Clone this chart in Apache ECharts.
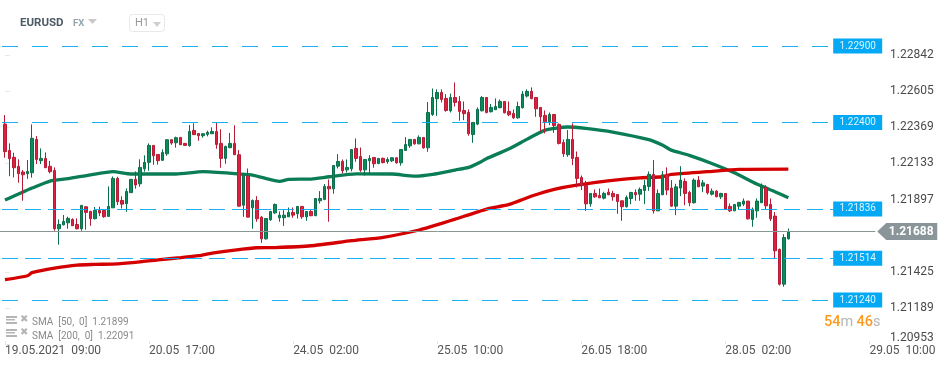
<!DOCTYPE html>
<html>
<head>
<meta charset="utf-8">
<title>EURUSD</title>
<style>
html,body{margin:0;padding:0;background:#fff;}
#chart{width:950px;height:368px;}
</style>
<script src="https://cdn.jsdelivr.net/npm/echarts@6/dist/echarts.min.js"></script>
</head>
<body>
<div id="chart"></div>
<script>
// hourly candles, index 0 = 19.05.2021 09:00
const opens = [
1.22390,1.22218,1.22173,1.22114,1.22077,1.22066,1.22072,1.22290,1.22151,1.22166,
1.22114,1.22087,1.21706,1.21732,1.21745,1.21767,1.21734,1.21706,1.21850,1.21819,
1.21772,1.21826,1.21826,1.21787,1.21843,1.22035,1.21891,1.21870,1.21942,1.22029,
1.22000,1.22098,1.22140,1.22251,1.22192,1.22153,1.22196,1.22288,1.22268,1.22303,
1.22264,1.22249,1.22349,1.22329,1.22314,1.22323,1.22327,1.22342,1.22264,1.22166,
1.22236,1.22264,1.22190,1.21860,1.22050,1.21843,1.21891,1.21782,1.21640,1.21765,
1.21810,1.21778,1.21778,1.21784,1.21813,1.21804,1.21852,1.21784,1.21819,1.21791,
1.21889,1.21898,1.21983,1.21967,1.22115,1.22146,1.22091,1.22098,1.22231,1.22179,
1.22091,1.22150,1.22172,1.22133,1.22166,1.22144,1.22150,1.22170,1.22137,1.22218,
1.22248,1.22290,1.22261,1.22303,1.22235,1.22453,1.22556,1.22597,1.22558,1.22477,
1.22564,1.22538,1.22479,1.22466,1.22322,1.22390,1.22477,1.22564,1.22471,1.22484,
1.22497,1.22538,1.22473,1.22460,1.22431,1.22497,1.22573,1.22604,1.22564,1.22499,
1.22447,1.22405,1.22453,1.22388,1.22270,1.22190,1.22290,1.22172,1.22041,1.21989,
1.21869,1.21937,1.21924,1.21906,1.21945,1.21937,1.21930,1.21889,1.21850,1.21904,
1.21943,1.21932,1.21956,1.21983,1.22061,1.21823,1.21928,1.22059,1.21972,1.21854,
1.21972,1.22015,1.21943,1.21876,1.22024,1.21985,1.21996,1.21932,1.21952,1.21915,
1.21937,1.21852,1.21823,1.21854,1.21867,1.21887,1.21767,1.21823,1.21876,1.21976,
1.21865,1.21789,1.21571,1.21344,1.21640];
const closes = [
1.22210,1.22164,1.22105,1.22066,1.22059,1.22081,1.22297,1.22159,1.22166,1.22105,
1.22079,1.21706,1.21734,1.21754,1.21774,1.21726,1.21706,1.21859,1.21813,1.21772,
1.21826,1.21809,1.21785,1.21852,1.22035,1.21883,1.21867,1.21950,1.22029,1.21992,
1.22107,1.22140,1.22251,1.22183,1.22151,1.22205,1.22288,1.22266,1.22301,1.22255,
1.22251,1.22342,1.22321,1.22314,1.22327,1.22336,1.22342,1.22257,1.22166,1.22244,
1.22264,1.22190,1.21854,1.22061,1.21782,1.21891,1.21771,1.21640,1.21773,1.21819,
1.21865,1.21795,1.21795,1.21813,1.21795,1.21852,1.21784,1.21819,1.21791,1.21904,
1.21904,1.21983,1.21967,1.22120,1.22146,1.22085,1.22107,1.22224,1.22166,1.22089,
1.22159,1.22166,1.22131,1.22166,1.22139,1.22159,1.22170,1.22137,1.22224,1.22257,
1.22290,1.22261,1.22303,1.22235,1.22466,1.22564,1.22597,1.22551,1.22479,1.22564,
1.22532,1.22473,1.22458,1.22327,1.22401,1.22486,1.22564,1.22466,1.22499,1.22505,
1.22538,1.22464,1.22451,1.22431,1.22505,1.22586,1.22604,1.22556,1.22490,1.22438,
1.22405,1.22453,1.22381,1.22264,1.22196,1.22290,1.22166,1.22035,1.21987,1.21869,
1.21937,1.21915,1.21908,1.21937,1.21928,1.21915,1.21884,1.21850,1.21911,1.21943,
1.21928,1.21963,1.21989,1.22061,1.21823,1.21937,1.22059,1.21959,1.21854,1.21980,
1.22024,1.21937,1.21876,1.22024,1.21980,1.22006,1.21941,1.21952,1.21915,1.21937,
1.21836,1.21823,1.21865,1.21878,1.21887,1.21771,1.21834,1.21887,1.21980,1.21856,
1.21771,1.21562,1.21344,1.21649,1.21688];
const lows = [
1.22170,1.22050,1.22042,1.22007,1.21889,1.22033,1.22040,1.22129,1.22129,1.22103,
1.22068,1.21693,1.21602,1.21728,1.21706,1.21724,1.21702,1.21693,1.21700,1.21726,
1.21767,1.21789,1.21778,1.21785,1.21843,1.21861,1.21839,1.21817,1.21942,1.21968,
1.21981,1.22079,1.22085,1.22125,1.22125,1.22151,1.22183,1.22255,1.22236,1.22255,
1.22249,1.22242,1.22321,1.22281,1.22301,1.22310,1.22327,1.22229,1.22105,1.22131,
1.22233,1.22190,1.21850,1.21784,1.21782,1.21706,1.21752,1.21614,1.21636,1.21758,
1.21802,1.21752,1.21725,1.21784,1.21778,1.21773,1.21771,1.21758,1.21791,1.21791,
1.21871,1.21893,1.21752,1.21935,1.22100,1.22068,1.22074,1.22081,1.22144,1.22078,
1.22054,1.22068,1.22105,1.22128,1.22133,1.22131,1.22142,1.22131,1.22118,1.22216,
1.22235,1.22255,1.22259,1.22229,1.22209,1.22444,1.22444,1.22532,1.22471,1.22466,
1.22505,1.22412,1.22416,1.22314,1.22268,1.22383,1.22473,1.22460,1.22466,1.22482,
1.22495,1.22460,1.22442,1.22423,1.22425,1.22492,1.22564,1.22553,1.22438,1.22340,
1.22329,1.22383,1.22333,1.22257,1.22176,1.22176,1.22122,1.21976,1.21959,1.21823,
1.21850,1.21908,1.21908,1.21898,1.21926,1.21889,1.21804,1.21758,1.21845,1.21867,
1.21889,1.21889,1.21867,1.21954,1.21806,1.21823,1.21928,1.21926,1.21850,1.21795,
1.21919,1.21860,1.21854,1.21871,1.21980,1.21945,1.21930,1.21924,1.21913,1.21900,
1.21832,1.21815,1.21823,1.21832,1.21854,1.21767,1.21719,1.21778,1.21876,1.21832,
1.21756,1.21512,1.21335,1.21327,1.21636];
const highs = [
1.22449,1.22264,1.22203,1.22160,1.22090,1.22155,1.22388,1.22312,1.22231,1.22205,
1.22149,1.22107,1.21767,1.21796,1.21785,1.21774,1.21774,1.21859,1.21854,1.21824,
1.21848,1.21850,1.21833,1.21983,1.22048,1.22046,1.21918,1.21970,1.22029,1.22081,
1.22160,1.22186,1.22264,1.22251,1.22192,1.22225,1.22290,1.22290,1.22308,1.22303,
1.22266,1.22384,1.22395,1.22329,1.22329,1.22347,1.22369,1.22399,1.22356,1.22249,
1.22332,1.22382,1.22220,1.22068,1.22100,1.21898,1.21919,1.21789,1.21775,1.21823,
1.21871,1.21819,1.21828,1.21845,1.21845,1.21854,1.21854,1.21819,1.21828,1.21904,
1.21952,1.21998,1.22028,1.22120,1.22194,1.22159,1.22159,1.22224,1.22296,1.22237,
1.22161,1.22187,1.22172,1.22168,1.22172,1.22172,1.22172,1.22172,1.22224,1.22305,
1.22292,1.22292,1.22316,1.22303,1.22534,1.22623,1.22617,1.22617,1.22586,1.22590,
1.22662,1.22573,1.22538,1.22486,1.22401,1.22499,1.22573,1.22564,1.22521,1.22558,
1.22551,1.22538,1.22538,1.22486,1.22536,1.22606,1.22617,1.22630,1.22564,1.22499,
1.22479,1.22466,1.22453,1.22394,1.22290,1.22351,1.22394,1.22211,1.22054,1.22020,
1.21937,1.21963,1.21969,1.21948,1.21969,1.21954,1.21930,1.21889,1.21924,1.21948,
1.21963,1.21976,1.22024,1.22081,1.22155,1.21963,1.22083,1.22107,1.22024,1.22000,
1.22115,1.22035,1.21954,1.22035,1.22050,1.22024,1.21998,1.21969,1.21959,1.21941,
1.21939,1.21871,1.21867,1.21882,1.21904,1.21887,1.21845,1.21904,1.22002,1.21991,
1.21904,1.21815,1.21577,1.21671,1.21708];

const sma50Idx = [0,2,4,6,10,14,19,24,28,32,38,44,52,55,57,61,63,68,72,78,86,91,95,100,103,106,107,112,116,120,125,129,135,143,146,148,152,157,162,167,171,174];
const sma50 = [1.21894,1.21920,1.21946,1.21972,1.22018,1.22033,1.22059,1.22079,1.22064,1.22064,1.22064,1.22079,1.22064,1.22057,1.22042,1.22016,1.22029,1.22031,1.22046,1.22065,1.22064,1.22050,1.22062,1.22090,1.22107,1.22148,1.22165,1.22229,1.22292,1.22351,1.22371,1.22362,1.22338,1.22288,1.22253,1.22220,1.22186,1.22133,1.22072,1.21998,1.21948,1.21909];
const sma200Idx = [0,5,6,11,16,20,25,29,34,39,43,46,51,56,60,68,77,84,92,97,100,107,112,117,122,127,137,141,146,148,156,163,174];
const sma200 = [1.21373,1.21399,1.21419,1.21449,1.21469,1.21473,1.21477,1.21486,1.21503,1.21517,1.21530,1.21547,1.21567,1.21582,1.21583,1.21595,1.21628,1.21650,1.21698,1.21741,1.21769,1.21835,1.21865,1.21920,1.21964,1.21992,1.22029,1.22039,1.22046,1.22062,1.22079,1.22094,1.22096];

const yTicks = [1.20953,1.21189,1.21425,1.21897,1.22133,1.22369,1.22605,1.22842];
const xTickIdx = [0,32,64,96,128,160,192];
const xTickLabels = ['19.05.2021  09:00','20.05  17:00','24.05  02:00','25.05  10:00','26.05  18:00','28.05  02:00','29.05  10:00'];

const levels = [1.22900,1.22400,1.21836,1.21514,1.21240];
const levelDash = [[16,14],[16,14],[16,7],[16,7],[16,14]];
const lastPrice = 1.21688;

const UP = '#0b8a5a', UP_DARK = '#0c6e4a', DOWN = '#dc2140', DOWN_DARK = '#b81b35';
const BLUE = '#03a9f4';
const FONT = 'Roboto';

const chart = echarts.init(document.getElementById('chart'), null, {renderer: 'canvas'});

// x is a plain number here so the level lines can start at the left edge of the window
const candleRows = opens.map((o, i) => [i, o, closes[i], lows[i], highs[i]]);
const xMin = -1.11, xMax = 194.8, levelEnd = 184, boxX = 189.4;

let levelLines = levels.map((v, i) => ({
  type: 'line', silent: true, symbol: 'none', z: 1, animation: false,
  data: [],
  markLine: {
    silent: true, symbol: 'none', animation: false, label: {show: false},
    lineStyle: {
      color: BLUE, width: 1, type: levelDash[i], opacity: 0.9,
      dashOffset: levelDash[i][0] + levelDash[i][1] - 2
    },
    data: [[{coord: [xMin, v]}, {coord: [levelEnd, v]}]]
  },
  markPoint: {
    silent: true, animation: false, symbol: 'rect', symbolSize: [49, 15],
    itemStyle: {color: BLUE},
    label: {show: true, position: 'inside', color: '#dff4ff', fontFamily: FONT, fontSize: 10, formatter: v.toFixed(5)},
    data: [{coord: [boxX, v]}]
  }
}));

const option = {
  animation: false,
  backgroundColor: '#fff',
  grid: {left: 0, right: 68, top: 30, bottom: 24, containLabel: false},
  xAxis: {
    type: 'value', min: xMin, max: xMax,
    splitLine: {show: false},
    axisLine: {show: false},
    axisTick: {show: true, inside: true, length: 3, lineStyle: {color: '#e2e2e2'}, customValues: xTickIdx},
    axisLabel: {
      show: true, customValues: xTickIdx, align: 'left', margin: 1,
      color: '#555', fontFamily: FONT, fontSize: 12,
      formatter: v => xTickLabels[xTickIdx.indexOf(v)]
    }
  },
  yAxis: {
    type: 'value', position: 'right', min: 1.20953, max: 1.23005, scale: true,
    splitLine: {show: false},
    axisLine: {show: false},
    axisTick: {show: true, length: 5, lineStyle: {color: '#e8e8e8'}, customValues: yTicks},
    axisLabel: {
      show: true, customValues: yTicks, margin: 8,
      color: '#4a4a4a', fontFamily: FONT, fontSize: 12,
      verticalAlignMinLabel: 'bottom',
      formatter: v => v.toFixed(5)
    }
  },
  series: levelLines.concat([
    {
      type: 'line', name: 'last', data: [], silent: true, z: 1,
      markLine: {
        silent: true, symbol: 'none', animation: false, label: {show: false},
        lineStyle: {color: '#8a9696', width: 1, type: 'solid'},
        data: [[{coord: [xMin, lastPrice]}, {coord: [193.3, lastPrice]}]]
      },
      markPoint: {
        silent: true, animation: false,
        symbol: 'path://M0 8.5 L9 0 L60 0 L60 17 L9 17 Z',
        symbolKeepAspect: false, symbolSize: [60, 17], symbolOffset: [32, 0],
        itemStyle: {color: '#8a9599'},
        label: {show: true, position: 'inside', offset: [4, 0], color: '#fff', fontFamily: FONT, fontWeight: 'bold', fontSize: 12, formatter: lastPrice.toFixed(5)},
        data: [{coord: [193.3, lastPrice]}]
      }
    },
    {
      type: 'line', name: 'SMA 50', z: 2, showSymbol: false, symbol: 'none', smooth: 0.2, clip: false,
      lineStyle: {color: '#0a7d55', width: 3.3},
      data: sma50Idx.map((x, i) => [x, sma50[i]])
    },
    {
      type: 'line', name: 'SMA 200', z: 2, showSymbol: false, symbol: 'none', smooth: 0.2, clip: false,
      lineStyle: {color: '#d40000', width: 3.3},
      data: sma200Idx.map((x, i) => [x, sma200[i]])
    },
    {
      type: 'candlestick', name: 'EURUSD', z: 3, barWidth: 3, clip: false,
      itemStyle: {color: UP, color0: DOWN, borderColor: UP_DARK, borderColor0: DOWN_DARK, borderWidth: 1},
      data: candleRows
    }
  ]),
  graphic: [
    {type: 'text', left: 20, top: 17, style: {text: 'EURUSD', fill: '#4d5b63', font: 'bold 11.5px Roboto'}},
    {type: 'text', left: 73, top: 19, style: {text: 'FX', fill: '#93a5ae', font: 'bold 9.5px Roboto'}},
    {type: 'polygon', shape: {points: [[88, 19], [97, 19], [92.5, 24]]}, style: {fill: '#c8c8c8'}},
    {type: 'rect', shape: {x: 129.5, y: 14.5, width: 35, height: 17, r: 3}, style: {fill: '#fff', stroke: '#e8e8e8'}},
    {type: 'text', left: 135, top: 18, style: {text: 'H1', fill: '#999', font: '11px Roboto'}},
    {type: 'polygon', shape: {points: [[153, 22], [161, 22], [157, 27]]}, style: {fill: '#cfcfcf'}},
    // indicator rows, bottom left
    {type: 'rect', shape: {x: 6, y: 316, width: 11, height: 2}, style: {fill: '#b5b5b5'}},
    {type: 'rect', shape: {x: 6, y: 319, width: 9, height: 1.5}, style: {fill: '#b5b5b5'}},
    {type: 'rect', shape: {x: 6, y: 322, width: 11, height: 2}, style: {fill: '#b5b5b5'}},
    {type: 'text', left: 20, top: 314, style: {text: '✖', fill: '#b5b5b5', font: '10px DejaVu Sans'}},
    {type: 'text', left: 32, top: 317, style: {text: 'SMA  [50,  0]  1.21899', fill: '#8a8a8a', font: '10px Roboto'}},
    {type: 'rect', shape: {x: 6, y: 329, width: 11, height: 2}, style: {fill: '#b5b5b5'}},
    {type: 'rect', shape: {x: 6, y: 332, width: 9, height: 1.5}, style: {fill: '#b5b5b5'}},
    {type: 'rect', shape: {x: 6, y: 335, width: 11, height: 2}, style: {fill: '#b5b5b5'}},
    {type: 'text', left: 20, top: 327, style: {text: '✖', fill: '#b5b5b5', font: '10px DejaVu Sans'}},
    {type: 'text', left: 32, top: 331, style: {text: 'SMA  [200,  0]  1.22091', fill: '#8a8a8a', font: '10px Roboto'}},
    // countdown
    {type: 'text', left: 824, top: 315, style: {
      text: '{o|54}{g|m} {o|46}{g|s}',
      rich: {
        o: {fill: '#ff9a1f', font: '500 14.5px Roboto'},
        g: {fill: '#b5b5b5', font: '14.5px Roboto'}
      }
    }}
  ]
};
chart.setOption(option);
</script>
</body>
</html>
